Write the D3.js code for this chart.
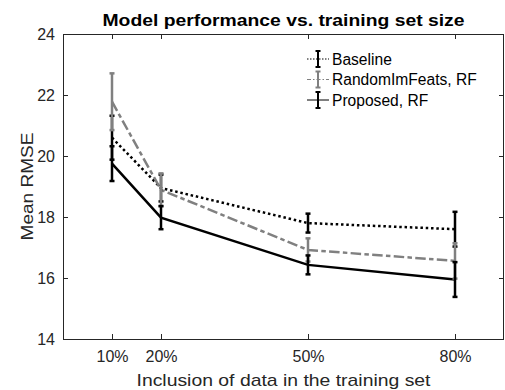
<!DOCTYPE html>
<html>
<head>
<meta charset="utf-8">
<script src="https://cdn.jsdelivr.net/npm/d3@7"></script>
<style>
  body { margin: 0; background: #fff; }
  svg { display: block; font-family: "Liberation Sans", Arial, sans-serif; }
</style>
</head>
<body>
<svg id="chart" width="505" height="390"></svg>
<script>
// data
const pcts = [10, 20, 50, 80]
const tickLabels = ["10%", "20%", "50%", "80%"]
const yTicks = [14, 16, 18, 20, 22, 24]

const baselineMean = [20.6, 18.95, 17.8, 17.6]
const baselineErr = [0.72, 0.44, 0.31, 0.57]
const randomMean = [21.78, 18.89, 16.92, 16.56]
const randomErr = [0.93, 0.54, 0.38, 0.58]
const proposedMean = [19.75, 17.98, 16.43, 15.95]
const proposedErr = [0.57, 0.38, 0.31, 0.57]

const seriesNames = ["Baseline", "RandomImFeats, RF", "Proposed, RF"]

const axisColor = "#262626"

const series = [
    { name: seriesNames[0], mean: baselineMean, err: baselineErr, color: "#000", dash: "2.5,2.8", legDash: "1.5,1.5" },
    { name: seriesNames[1], mean: randomMean, err: randomErr, color: "#808080", dash: "10.5,3.3,4.5,3.3", legDash: "4,2,1.5,2" },
    { name: seriesNames[2], mean: proposedMean, err: proposedErr, color: "#000", dash: null, legDash: null }
]

const margin = { left: 63, top: 34, right: 1, bottom: 51 }
const W = 505, H = 390
const width = W - margin.left - margin.right
const height = H - margin.top - margin.bottom

const svg = d3.select("#chart")
const g = svg.append("g")
    .attr("transform", "translate(" + margin.left + "," + margin.top + ")")

const x = d3.scaleLinear().domain([0, 90]).range([0, width])
const y = d3.scaleLinear().domain([14, 24]).range([height, 0])

// axes, ticks pointing inwards
g.append("g")
    .attr("transform", "translate(0," + height + ")")
    .call(d3.axisBottom(x).tickValues(pcts).tickSize(-5).tickPadding(12)
        .tickFormat((d, i) => tickLabels[i]))
    .call(a => a.select(".domain").remove())
g.append("g")
    .call(d3.axisLeft(y).tickValues(yTicks).tickSize(-5).tickPadding(8))
    .call(a => a.select(".domain").remove())
// mirrored ticks on top / right
g.append("g")
    .call(d3.axisTop(x).tickValues(pcts).tickSize(-5).tickFormat(""))
    .call(a => a.select(".domain").remove())
g.append("g")
    .attr("transform", "translate(" + width + ",0)")
    .call(d3.axisRight(y).tickValues(yTicks).tickSize(-5).tickFormat(""))
    .call(a => a.select(".domain").remove())

g.selectAll(".tick line").attr("stroke", axisColor)
g.selectAll(".tick text").attr("fill", axisColor).style("font-size", "16px")

g.append("rect")
    .attr("x", 0.5).attr("y", 0.5)
    .attr("width", width - 1).attr("height", height)
    .attr("fill", "none")
    .attr("stroke", axisColor)
    .attr("stroke-width", 1)

// lines
const line = d3.line()
    .x((d, i) => x(pcts[i]))
    .y(d => y(d))

series.forEach(s => {
    g.append("path")
        .datum(s.mean)
        .attr("d", line)
        .attr("fill", "none")
        .attr("stroke", s.color)
        .attr("stroke-width", 2.5)
        .attr("stroke-dasharray", s.dash)
})

// error bars
series.forEach(s => {
    const eb = g.append("g")
    s.mean.forEach((m, i) => {
        const cx = x(pcts[i])
        const y0 = y(m + s.err[i]), y1 = y(m - s.err[i])
        eb.append("line")
            .attr("x1", cx).attr("x2", cx)
            .attr("y1", y0).attr("y2", y1)
            .attr("stroke", s.color).attr("stroke-width", 2.5)
        ;[y0, y1].forEach(yy => {
            eb.append("line")
                .attr("x1", cx - 2.5).attr("x2", cx + 2.5)
                .attr("y1", yy).attr("y2", yy)
                .attr("stroke", s.color).attr("stroke-width", 2.5)
        })
    })
})

// legend
const leg = svg.append("g").attr("transform", "translate(307,59)")
series.forEach((s, i) => {
    const row = leg.append("g").attr("transform", "translate(0," + (i * 20.5) + ")")
    row.append("line")
        .attr("x1", 0).attr("x2", 22)
        .attr("y1", 0).attr("y2", 0)
        .attr("stroke", s.color).attr("stroke-width", 1)
        .attr("stroke-dasharray", s.legDash)
    row.append("line")
        .attr("x1", 11).attr("x2", 11).attr("y1", -8).attr("y2", 8)
        .attr("stroke", s.color).attr("stroke-width", 2)
    ;[-8, 8].forEach(yy => {
        row.append("line")
            .attr("x1", 8.5).attr("x2", 13.5).attr("y1", yy).attr("y2", yy)
            .attr("stroke", s.color).attr("stroke-width", 2)
    })
    row.append("text")
        .attr("x", 25).attr("y", 5.5)
        .style("font-size", "15.6px")
        .attr("fill", "#000")
        .text(s.name)
})

// title and axis labels (reference glyphs run wide, so fix the lengths)
svg.append("text")
    .attr("x", margin.left + width / 2).attr("y", 26)
    .attr("text-anchor", "middle")
    .style("font-size", "17px").style("font-weight", "bold")
    .attr("textLength", 362).attr("lengthAdjust", "spacingAndGlyphs")
    .text("Model performance vs. training set size")

svg.append("text")
    .attr("x", margin.left + width / 2).attr("y", 386)
    .attr("text-anchor", "middle")
    .style("font-size", "17px")
    .attr("fill", axisColor)
    .attr("textLength", 294).attr("lengthAdjust", "spacingAndGlyphs")
    .text("Inclusion of data in the training set")

svg.append("text")
    .attr("transform", "translate(33," + (margin.top + height / 2) + ") rotate(-90)")
    .attr("text-anchor", "middle")
    .style("font-size", "17px")
    .attr("fill", axisColor)
    .attr("textLength", 108).attr("lengthAdjust", "spacingAndGlyphs")
    .text("Mean RMSE")
</script>
</body>
</html>
